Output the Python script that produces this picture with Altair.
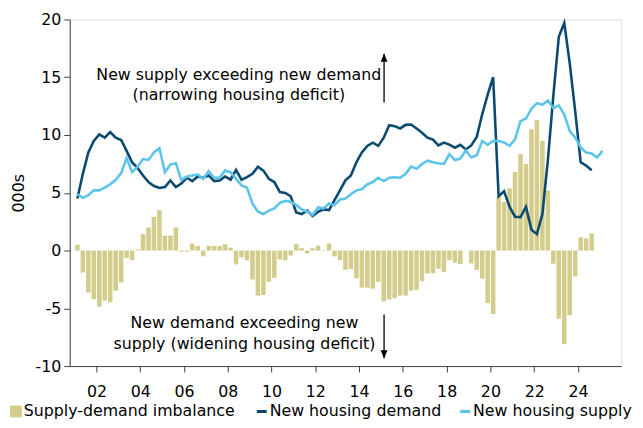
import altair as alt
import pandas as pd

# Quarterly data, first quarter = 2001Q1
imbalance = [0.5, -1.9, -3.65, -4.2, -4.85, -4.33, -4.47, -3.48, -2.76, -0.65,
             -0.83, 0.1, 1.42, 2.0, 2.92, 3.5, 1.3, 1.3, 2.0, -0.1,
             -0.1, 0.6, 0.4, -0.5, 0.4, 0.4, 0.4, 0.55, 0.25, -1.2,
             -0.6, -0.85, -2.5, -3.9, -3.85, -2.7, -2.36, -0.77, -0.83, -0.43,
             0.57, 0.2, -0.26, 0.2, 0.43, 0.05, 0.6, -0.5, -0.83, -1.65,
             -1.6, -2.4, -3.2, -3.22, -3.3, -2.7, -4.4, -4.24, -4.13, -3.9,
             -3.9, -3.47, -3.4, -2.65, -1.99, -1.97, -1.57, -1.85, -0.83, -1.05,
             -1.17, 0.0, -1.11, -1.68, -2.42, -4.56, -5.5, 4.7, 4.2, 5.4,
             6.8, 8.35, 7.5, 10.5, 11.3, 9.5, 5.2, -1.14, -5.9, -8.1,
             -5.6, -2.25, 1.14, 1.05, 1.48]

demand = [4.5, 6.64, 8.49, 9.49, 10.06, 9.77, 10.26, 9.77, 9.57, 8.63,
          7.63, 7.15, 6.5, 5.92, 5.58, 5.41, 5.5, 6.07, 5.5, 5.8,
          6.3, 6.01, 6.41, 6.3, 6.5, 6.01, 6.07, 6.41, 6.13, 6.98,
          6.13, 6.35, 6.64, 7.26, 6.92, 6.21, 5.93, 5.07, 4.99, 4.7,
          3.3, 3.16, 3.45, 2.99, 3.36, 3.56, 3.5, 4.36, 5.21, 6.07,
          6.5, 7.64, 8.49, 9.06, 9.34, 9.06, 9.77, 10.85, 10.77, 10.57,
          10.88, 10.91, 10.57, 10.2, 9.77, 9.6, 9.1, 9.34, 9.17, 8.9,
          9.15, 8.75, 9.1, 9.84, 11.8, 13.5, 15.0, 4.7, 5.13, 3.79,
          2.93, 2.9, 3.79, 1.79, 1.42, 3.16, 7.8, 13.4, 18.5, 19.7,
          16.2, 12.05, 7.64, 7.35, 6.95]

supply = [4.87, 4.56, 4.79, 5.21, 5.21, 5.44, 5.73, 6.13, 6.7, 8.0,
          6.78, 7.26, 7.92, 7.84, 8.49, 8.86, 6.78, 7.44, 7.55, 6.1,
          6.41, 6.5, 6.58, 6.21, 6.87, 6.3, 6.3, 6.92, 6.78, 6.21,
          5.64, 5.44, 4.07, 3.36, 3.16, 3.45, 3.65, 4.13, 4.3, 4.22,
          3.93, 3.56, 3.36, 3.08, 3.73, 3.65, 4.07, 3.93, 4.42, 4.5,
          4.87, 5.21, 5.3, 5.73, 5.93, 6.3, 6.01, 6.3, 6.35, 6.3,
          6.64, 7.26, 7.07, 7.49, 7.78, 7.64, 7.55, 7.5, 8.35, 7.83,
          7.96, 8.66, 8.06, 8.25, 9.49, 9.15, 9.5, 9.49, 9.35, 9.06,
          9.63, 11.2, 11.43, 12.28, 12.76, 12.62, 12.99, 12.33, 12.56, 11.77,
          10.34, 9.77, 8.92, 8.49, 8.4, 8.06, 8.63]

year_ticks = list(range(2002, 2025, 2))
y_ticks = [-10, -5, 0, 5, 10, 15, 20]

series_bar = "Supply-demand imbalance"
series_lines = ["New housing demand", "New housing supply"]

note_x = [2008.5, 2008.5, 2008.76, 2008.76]
note_y = [15.2, 13.5, -6.3, -8.1]
note_text = ["New supply exceeding new demand", "(narrowing housing deficit)",
             "New demand exceeding new", "supply (widening housing deficit)"]

arrow_x = [2015.14, 2015.14]
arrow_from = [12.82, -5.53]
arrow_to = [17.03, -9.32]

FONT = "DejaVu Sans"


def qtime(i):
    return 2001 + i / 4 + 0.125


bars_df = pd.DataFrame({
    "t": [qtime(i) for i in range(len(imbalance))],
    "v": imbalance,
    "bs": series_bar,
})

lines_df = pd.concat([
    pd.DataFrame({"t": [qtime(i) for i in range(len(demand))], "v": demand,
                  "ls": series_lines[0], "o": 0}),
    pd.DataFrame({"t": [qtime(i) for i in range(len(supply))], "v": supply,
                  "ls": series_lines[1], "o": 1}),
])

notes_df = pd.DataFrame({"t": note_x, "v": note_y, "txt": note_text})
arrows_df = pd.DataFrame({"t": arrow_x, "v": arrow_from, "v2": arrow_to})
up_df = arrows_df.iloc[[0]]
down_df = arrows_df.iloc[[1]]

xscale = alt.Scale(domain=[2001, 2025.75], nice=False, zero=False)
yscale = alt.Scale(domain=[-10, 20], nice=False)

x_axis = alt.Axis(values=year_ticks, labelExpr="substring(datum.value + '', 2, 4)",
                  grid=False, title=None, tickSize=6, labelPadding=12,
                  labelFont=FONT, labelFontSize=16, labelColor="black",
                  domainColor="#404040", tickColor="#404040", labelFlush=False)
y_axis = alt.Axis(values=y_ticks, labelExpr="datum.value + ''", grid=False,
                  title="000s", tickSize=6, labelPadding=3,
                  labelFont=FONT, labelFontSize=16, labelColor="black",
                  titleFont=FONT, titleFontSize=16, titleFontWeight="normal",
                  titleColor="black", titlePadding=9,
                  domainColor="#404040", tickColor="#404040")

X = alt.X("t:Q", scale=xscale, axis=x_axis)
Y = alt.Y("v:Q", scale=yscale, axis=y_axis)

bars = alt.Chart(bars_df).mark_bar(width=4.6).encode(
    x=X, y=Y,
    fill=alt.Fill("bs:N", scale=alt.Scale(domain=[series_bar], range=["#d4cc8c"]),
                  legend=alt.Legend(title=None, orient="none", legendX=-62.5, legendY=389,
                                    symbolType="square", symbolSize=144,
                                    symbolStrokeWidth=0, labelFont=FONT,
                                    labelFontSize=16, labelColor="black",
                                    labelOffset=0, labelLimit=400, padding=0)),
)

lines = alt.Chart(lines_df).mark_line(strokeWidth=2.6).encode(
    x=alt.X("t:Q", scale=xscale, axis=x_axis),
    y=alt.Y("v:Q", scale=yscale, axis=y_axis),
    stroke=alt.Stroke("ls:N", scale=alt.Scale(domain=series_lines,
                                              range=["#0b4a70", "#5cc4ea"]),
                      legend=alt.Legend(title=None, orient="none", legendX=186.5,
                                        legendY=389, direction="horizontal",
                                        symbolType="stroke", symbolSize=100,
                                        symbolStrokeWidth=3, columnPadding=13,
                                        labelFont=FONT, labelFontSize=16,
                                        labelColor="black", labelOffset=0,
                                        labelLimit=400, padding=0)),
    order="o:Q",
)

notes = alt.Chart(notes_df).mark_text(font=FONT, fontSize=16, color="black",
                                      align="center", baseline="middle").encode(
    x=alt.X("t:Q", scale=xscale), y=alt.Y("v:Q", scale=yscale), text="txt:N")

rules = alt.Chart(arrows_df).mark_rule(color="black", strokeWidth=1.3).encode(
    x=alt.X("t:Q", scale=xscale), y=alt.Y("v:Q", scale=yscale), y2="v2:Q")

up_head = alt.Chart(up_df).mark_point(shape="M0,0L0.7,1.6L-0.7,1.6Z", filled=True,
                                      size=100, color="black", opacity=1).encode(
    x=alt.X("t:Q", scale=xscale), y=alt.Y("v2:Q", scale=yscale))
down_head = alt.Chart(down_df).mark_point(shape="M0,0L0.7,-1.6L-0.7,-1.6Z", filled=True,
                                          size=100, color="black", opacity=1).encode(
    x=alt.X("t:Q", scale=xscale), y=alt.Y("v2:Q", scale=yscale))

chart = alt.layer(bars, lines, notes, rules, up_head, down_head).properties(
    width=558.5, height=351,
    autosize=alt.AutoSizeParams(type="none"),
    padding={"left": 62.5, "top": 9, "right": 14, "bottom": 54},
).configure_view(stroke=None).configure(background="white")

chart.save("out.html", embed_options={"renderer": "svg", "actions": False})
